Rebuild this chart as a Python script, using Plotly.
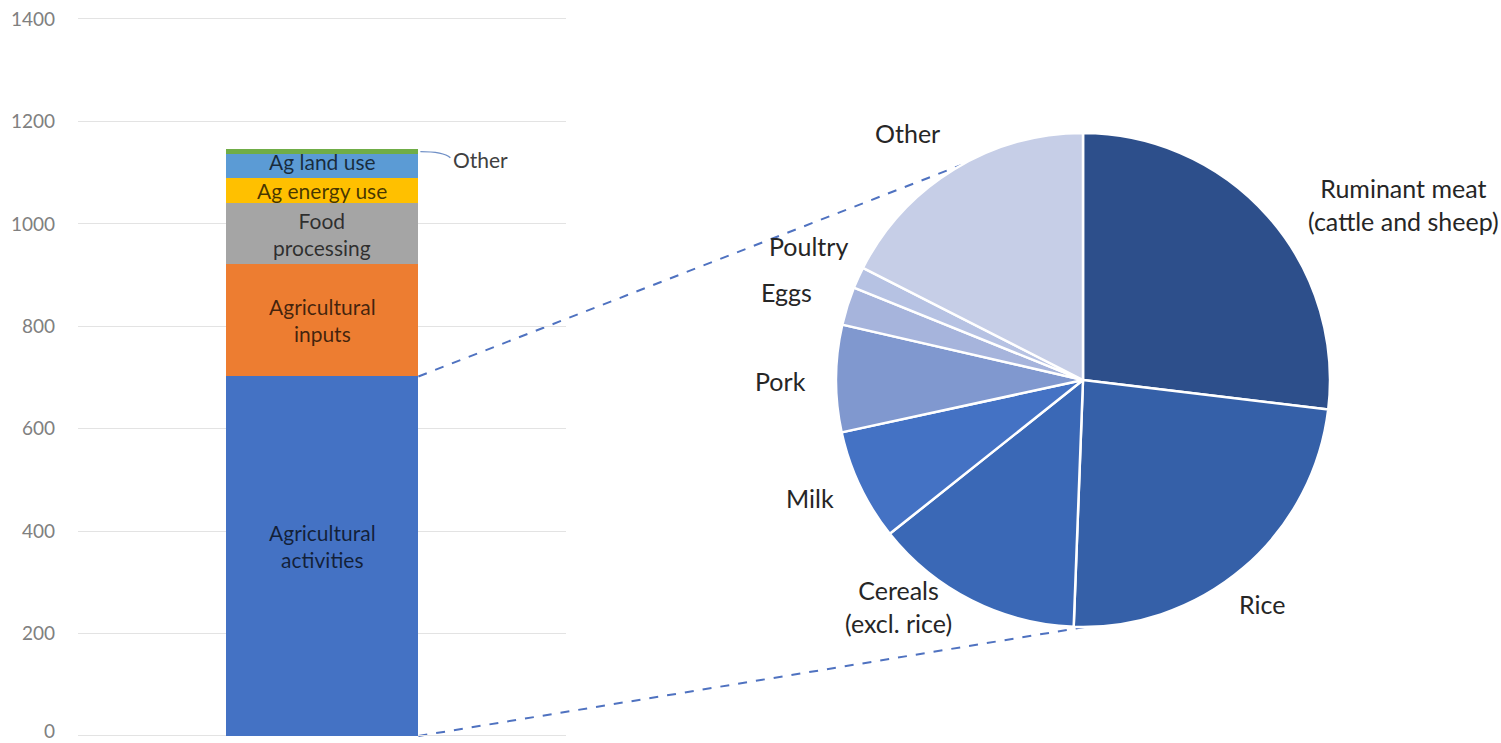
import math
import plotly.graph_objects as go

# ---------------- data ----------------
bar_category = [""]
bar_segments = ["Agricultural activities", "Agricultural inputs", "Food processing",
                "Ag energy use", "Ag land use", "Other"]
bar_labels = ["Agricultural<br>activities", "Agricultural<br>inputs", "Food<br>processing",
              "Ag energy use", "Ag land use", None]
bar_values = [702, 220, 118, 50, 46, 10]
bar_colors = ["#4472C4", "#ED7D31", "#A5A5A5", "#FFC000", "#5B9BD5", "#70AD47"]

y_ticks = [0, 200, 400, 600, 800, 1000, 1200, 1400]

pie_labels = ["Ruminant meat (cattle and sheep)", "Rice", "Cereals (excl. rice)", "Milk",
              "Pork", "Eggs", "Poultry", "Other"]
pie_values = [26.9, 23.7, 13.7, 7.3, 7.0, 2.5, 1.4, 17.5]
pie_colors = ["#2D4F8B", "#3560A8", "#3A68B6", "#4472C4", "#8098CF", "#A6B4DC", "#B6C2E3", "#C6CEE7"]
pie_text = ["Ruminant meat<br>(cattle and sheep)", "Rice", "Cereals<br>(excl. rice)", "Milk",
            "Pork", "Eggs", "Poultry", "Other"]

# ---------------- layout geometry ----------------
W, H = 1501, 743
FONT = "Lato"
y_min, y_max = -10, 1410            # small padding so the 0 / 1400 grid lines sit inside the plot
px_zero, px_top = 736, 19          # pixel rows of 0 and 1400
ppu = (px_zero - px_top) / 1400.0  # pixels per unit
dom_bottom_px = px_zero - y_min * ppu
dom_top_px = px_top - (y_max - 1400) * ppu
bar_dom_x = [78 / W, 566 / W]
bar_dom_y = [(H - dom_bottom_px) / H, (H - dom_top_px) / H]
pie_cx, pie_cy, pie_r = 1083, 380, 247  # pixels
pie_dom_x = [(pie_cx - pie_r) / W, (pie_cx + pie_r) / W]
pie_dom_y = [(H - pie_cy - pie_r) / H, (H - pie_cy + pie_r) / H]
bargap = 0.605
TICK_FONT = dict(family=FONT, size=19, color="#808080")

fig = go.Figure()
for name, val, col in zip(bar_segments, bar_values, bar_colors):
    fig.add_trace(go.Bar(x=bar_category, y=[val], name=name, marker=dict(color=col, line=dict(width=0)),
                         hoverinfo="name+y", showlegend=False))

fig.add_trace(go.Pie(labels=pie_labels, values=pie_values, sort=False, direction="clockwise",
                     rotation=0, textinfo="none", hole=0,
                     marker=dict(colors=pie_colors, line=dict(color="white", width=2.5)),
                     domain=dict(x=pie_dom_x, y=pie_dom_y), showlegend=False))

annotations = []
base = 0
shifts = [10, 0, 0, 0, 4, 0]
for lab, val, sh in zip(bar_labels, bar_values, shifts):
    mid = base + val / 2
    if lab:
        annotations.append(dict(x=0, y=mid, xref="x", yref="y", text=lab, showarrow=False,
                                xanchor="center", yanchor="middle", borderpad=0,
                                font=dict(family=FONT, size=21, color="rgba(0,0,0,0.72)"),
                                yshift=sh))
    base += val
total = base


def bar_paper_y(v):
    return bar_dom_y[0] + (v - y_min) / (y_max - y_min) * (bar_dom_y[1] - bar_dom_y[0])


# the bottom tick label ("0") sits on the page edge, where plotly drops it; draw it as text
annotations.append(dict(x=bar_dom_x[0] - 22 / W, y=0, xref="paper", yref="paper",
                        text=str(y_ticks[0]), showarrow=False, xanchor="right", yanchor="bottom",
                        borderpad=0, font=TICK_FONT))

bar_half = (1 - bargap) / 2
bar_right_px = 78 + (0.5 + bar_half) * (566 - 78)
bar_right_paper = bar_right_px / W

# "Other" leader line and label
other_top = total - bar_values[-1] / 2
shapes = []
shapes.append(dict(type="path", xref="paper", yref="paper",
                   path=f"M {bar_right_paper + 2/W},{bar_paper_y(other_top)} "
                        f"Q {(bar_right_px + 25)/W},{bar_paper_y(other_top)} {(bar_right_px + 32)/W},{bar_paper_y(other_top) - 6/H}",
                   line=dict(color="#6F8FC6", width=1.3)))
annotations.append(dict(x=(bar_right_px + 33) / W, y=bar_paper_y(other_top) - 8 / H, xref="paper", yref="paper",
                        text="Other", showarrow=False, xanchor="left", yanchor="middle",
                        font=dict(family=FONT, size=21, color="#404040")))


def pie_edge(angle_deg):
    a = math.radians(angle_deg)
    px = pie_cx + pie_r * math.sin(a)
    py = pie_cy - pie_r * math.cos(a)
    return px / W, (H - py) / H


top_pt = pie_edge(330.6)
bot_pt = pie_edge(179.5)
for yv, pt in [(bar_values[0], top_pt), (0, bot_pt)]:
    shapes.append(dict(type="line", xref="paper", yref="paper",
                       x0=bar_right_paper, y0=bar_paper_y(yv), x1=pt[0], y1=pt[1],
                       line=dict(color="#4F72C0", width=2, dash="dash"), layer="below"))

pie_label_pos = [(1403, 204), (1262, 604), (898, 606), (810, 498), (780, 381), (786, 292), (808, 246), (907, 133)]
for txt, (px, py) in zip(pie_text, pie_label_pos):
    annotations.append(dict(x=px / W, y=(H - py) / H, xref="paper", yref="paper", text=txt,
                            showarrow=False, xanchor="center", yanchor="middle",
                            font=dict(family=FONT, size=25, color="#262626")))

fig.update_layout(
    template="none",
    width=W, height=H, autosize=False,
    margin=dict(l=0, r=0, t=0, b=0, pad=0),
    paper_bgcolor="white", plot_bgcolor="white",
    barmode="stack", bargap=bargap,
    xaxis=dict(domain=bar_dom_x, showticklabels=False, showgrid=False, zeroline=False,
               showline=False, ticks="", range=[-0.5, 0.5], type="category", automargin=False),
    yaxis=dict(domain=bar_dom_y, range=[y_min, y_max], tickvals=y_ticks, showgrid=True,
               gridcolor="#E3E3E3", gridwidth=1.2, zeroline=True, zerolinecolor="#E3E3E3",
               zerolinewidth=1.2, showline=False, ticks="", ticklabelstandoff=22, automargin=False,
               tickfont=TICK_FONT),
    annotations=annotations, shapes=shapes,
    font=dict(family=FONT),
)

post = ("document.body.style.margin='0';document.body.style.overflow='hidden';"
        "var gd=document.getElementById('{plot_id}');gd.style.position='absolute';"
        "gd.style.left='0px';gd.style.top='0px';")
fig.write_html("out.html", post_script=post, config={"displayModeBar": False})
